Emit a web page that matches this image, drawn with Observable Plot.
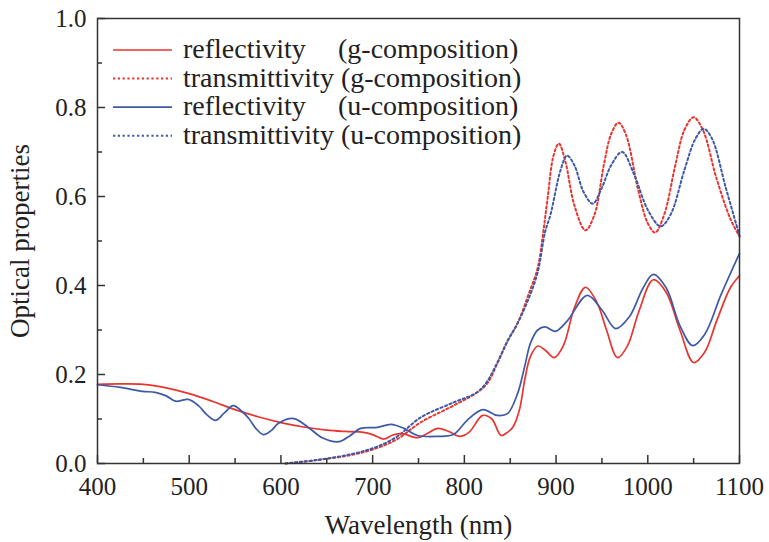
<!DOCTYPE html>
<html><head><meta charset="utf-8">
<script src="https://cdn.jsdelivr.net/npm/d3@7"></script>
<script src="https://cdn.jsdelivr.net/npm/@observablehq/plot@0.6"></script>
<style>
body{margin:0;background:#fff;}
#wrap{position:relative;width:769px;height:542px;font-family:"Liberation Serif","Times New Roman",serif;}
#legend{position:absolute;left:0;top:0;width:769px;height:200px;pointer-events:none;}
#wrap g[aria-label="x-axis label"] text, #wrap g[aria-label="y-axis label"] text {font-size:27px;}
</style></head><body><div id="wrap"></div>
<script>
// Reflectivity, g-composition
const rgWl  = [400,425,450,475,500,525,550,575,600,625,650,670,690,700,712,722,732,749,760,771,783,795,805,820,830,840,847,853,860,866,872,880,888,898,908,920,932,945,955,967,978,990,1006,1020,1035,1050,1062,1075,1090,1100];
const rgVal = [0.178,0.179,0.178,0.170,0.157,0.140,0.121,0.105,0.092,0.082,0.075,0.072,0.070,0.065,0.055,0.064,0.067,0.058,0.068,0.079,0.072,0.061,0.070,0.108,0.100,0.063,0.070,0.082,0.120,0.190,0.240,0.264,0.255,0.238,0.265,0.350,0.396,0.360,0.300,0.238,0.265,0.340,0.413,0.385,0.300,0.227,0.250,0.320,0.395,0.422];
// Transmittivity, g-composition
const tgWl  = [605,640,679,705,727,752,788,814,825,836,847,858,870,880,886,891,897,903,910,920,932,942,952,960,968,976,990,1000,1008,1018,1030,1040,1050,1060,1075,1090,1100];
const tgVal = [0.0,0.008,0.020,0.035,0.055,0.092,0.130,0.160,0.180,0.225,0.275,0.315,0.380,0.440,0.520,0.600,0.690,0.719,0.680,0.580,0.524,0.560,0.670,0.740,0.766,0.740,0.610,0.540,0.519,0.560,0.670,0.750,0.778,0.750,0.640,0.550,0.510];
// Reflectivity, u-composition
const ruWl  = [400,425,449,463,475,485,499,510,520,529,538,548,557,565,573,581,590,597,614,630,645,663,675,687,705,720,734,749,771,788,803,820,836,847,858,866,872,880,888,899,912,934,950,965,980,995,1006,1020,1035,1049,1062,1080,1100];
const ruVal = [0.177,0.171,0.162,0.160,0.152,0.140,0.144,0.130,0.108,0.097,0.113,0.130,0.118,0.101,0.078,0.065,0.075,0.090,0.101,0.081,0.058,0.049,0.062,0.079,0.081,0.088,0.079,0.063,0.061,0.065,0.097,0.121,0.108,0.112,0.157,0.220,0.270,0.300,0.307,0.297,0.320,0.378,0.345,0.303,0.330,0.395,0.425,0.395,0.310,0.265,0.290,0.380,0.472];
// Transmittivity, u-composition
const tuWl  = [605,640,679,705,727,752,788,814,825,836,847,858,870,880,888,894,905,912,920,930,940,950,960,972,985,1000,1014,1025,1040,1052,1061,1070,1085,1100];
const tuVal = [0.0,0.008,0.022,0.038,0.061,0.103,0.137,0.160,0.185,0.227,0.275,0.315,0.370,0.430,0.520,0.560,0.660,0.692,0.670,0.610,0.584,0.620,0.670,0.700,0.650,0.570,0.533,0.560,0.660,0.730,0.752,0.730,0.620,0.512];

const xMajor = [400,500,600,700,800,900,1000,1100];
const xMinor = [450,550,650,750,850,950,1050];
const yMajor = [0.0,0.2,0.4,0.6,0.8,1.0];
const yMinor = [0.1,0.3,0.5,0.7,0.9];
const legendLabels = [
  ["reflectivity", "(g-composition)"],
  ["transmittivity (g-composition)", null],
  ["reflectivity", "(u-composition)"],
  ["transmittivity (u-composition)", null]
];

const RED = "#e8352f", BLUE = "#3e5aa6";
const DASH = "2.2,2.6";
const rows = (wl, val) => wl.map((w, i) => ({wl: w, v: val[i]}));
const FONT = '"Liberation Serif","Times New Roman",serif';

const chart = Plot.plot({
  width: 769, height: 542,
  marginLeft: 97, marginRight: 30, marginTop: 18, marginBottom: 79,
  x: {domain: [400, 1100]},
  y: {domain: [0, 1]},
  style: {fontFamily: FONT, fontSize: "25px", color: "#222", background: "white", overflow: "visible"},
  marks: [
    Plot.line(rows(tgWl, tgVal), {x: "wl", y: "v", stroke: RED, strokeWidth: 2, strokeDasharray: DASH, curve: "catmull-rom"}),
    Plot.line(rows(tuWl, tuVal), {x: "wl", y: "v", stroke: BLUE, strokeWidth: 2, strokeDasharray: DASH, curve: "catmull-rom"}),
    Plot.line(rows(rgWl, rgVal), {x: "wl", y: "v", stroke: RED, strokeWidth: 1.7, curve: "catmull-rom"}),
    Plot.line(rows(ruWl, ruVal), {x: "wl", y: "v", stroke: BLUE, strokeWidth: 1.7, curve: "catmull-rom"}),
    Plot.frame({stroke: "#333", strokeWidth: 1.5}),
    Plot.axisX(xMajor, {tickSize: -8, tickPadding: 22, stroke: "#333", strokeWidth: 1.5, fontSize: 25,
      tickFormat: d => String(d),
      label: "Wavelength (nm)", labelAnchor: "center", labelOffset: 70, labelArrow: "none"}),
    Plot.axisX(xMinor, {tickSize: -5, stroke: "#333", strokeWidth: 1.5, tickFormat: () => "", label: null}),
    Plot.axisY(yMajor, {tickSize: -8, tickPadding: 19, stroke: "#333", strokeWidth: 1.5, fontSize: 25,
      tickFormat: d => d.toFixed(1),
      label: "Optical properties", labelAnchor: "center", labelOffset: 88, labelArrow: "none"}),
    Plot.axisY(yMinor, {tickSize: -5, stroke: "#333", strokeWidth: 1.5, tickFormat: () => "", label: null})
  ]
});
const wrap = document.getElementById("wrap");
wrap.appendChild(chart);

// legend overlay
const styles = [
  {stroke: RED, dash: null}, {stroke: RED, dash: DASH},
  {stroke: BLUE, dash: null}, {stroke: BLUE, dash: DASH}
];
const ns = "http://www.w3.org/2000/svg";
const leg = document.createElementNS(ns, "svg");
leg.setAttribute("id", "legend");
leg.setAttribute("width", 769); leg.setAttribute("height", 200);
legendLabels.forEach((lab, i) => {
  const y = 50 + i * 28.6;
  const ln = document.createElementNS(ns, "line");
  ln.setAttribute("x1", 113); ln.setAttribute("x2", 172);
  ln.setAttribute("y1", y); ln.setAttribute("y2", y);
  ln.setAttribute("stroke", styles[i].stroke);
  ln.setAttribute("stroke-width", styles[i].dash ? 2 : 1.7);
  if (styles[i].dash) ln.setAttribute("stroke-dasharray", styles[i].dash);
  leg.appendChild(ln);
  const t = document.createElementNS(ns, "text");
  t.setAttribute("x", 183); t.setAttribute("y", y + 8);
  t.setAttribute("font-family", FONT); t.setAttribute("font-size", 28); t.setAttribute("fill", "#222");
  t.textContent = lab[0];
  leg.appendChild(t);
  if (lab[1]) {
    const t2 = document.createElementNS(ns, "text");
    t2.setAttribute("x", 338); t2.setAttribute("y", y + 8);
    t2.setAttribute("font-family", FONT); t2.setAttribute("font-size", 28); t2.setAttribute("fill", "#222");
    t2.textContent = lab[1];
    leg.appendChild(t2);
  }
});
wrap.appendChild(leg);
</script>
</body></html>
